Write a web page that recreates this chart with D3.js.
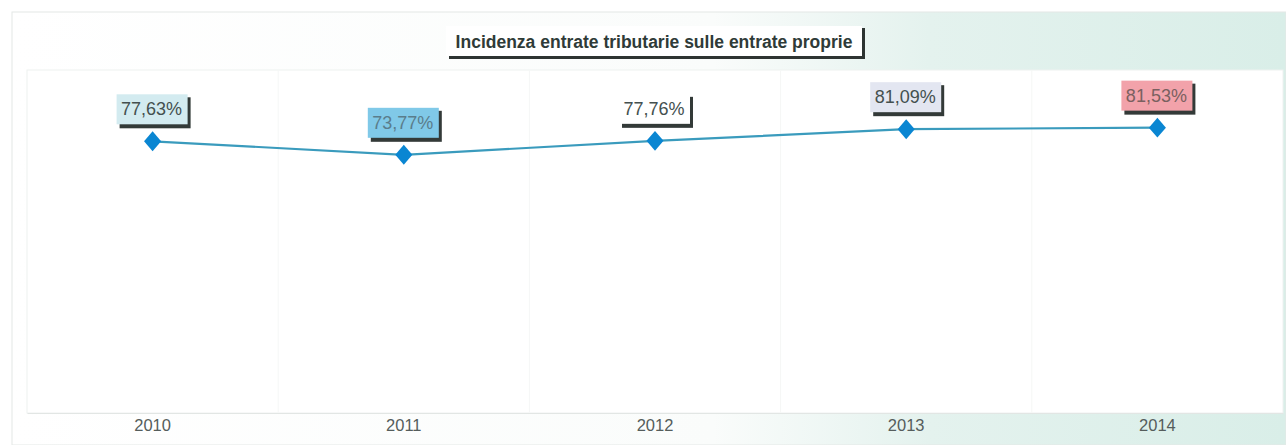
<!DOCTYPE html>
<html lang="it">
<head>
    <meta charset="UTF-8">
    <script src="https://d3js.org/d3.v7.min.js"></script>
    <title>Incidenza entrate tributarie</title>
    <style>
        body { margin: 0; background: #fff; }
        svg { display: block; font-family: "Liberation Sans", Arial, sans-serif; }
    </style>
</head>
<body>
    <svg width="1286" height="445"></svg>
    <script>
    // dati
    const anni = ["2010", "2011", "2012", "2013", "2014"];
    const incidenza = [77.63, 73.77, 77.76, 81.09, 81.53];
    const etichette = ["77,63%", "73,77%", "77,76%", "81,09%", "81,53%"];
    const titolo = "Incidenza entrate tributarie sulle entrate proprie";

    // colori delle etichette (stile)
    const fondoEtichette = ["#d3ebf0", "#80c9e8", "#ffffff", "#e3e6f1", "#f2a2aa"];
    const testoEtichette = ["#44504f", "#5a7d8c", "#44504f", "#44504f", "#7a6060"];

    const svg = d3.select("svg");
    const width = 1286, height = 445;
    const margin = {top: 70, right: 3, bottom: 32, left: 27};

    // sfondo sfumato
    const defs = svg.append("defs");
    const grad = defs.append("linearGradient").attr("id", "bg")
        .attr("x1", "0%").attr("x2", "100%").attr("y1", "0%").attr("y2", "0%");
    grad.append("stop").attr("offset", "0%").attr("stop-color", "#ffffff");
    grad.append("stop").attr("offset", "55%").attr("stop-color", "#fafcfb");
    grad.append("stop").attr("offset", "72%").attr("stop-color", "#e4f2ee");
    grad.append("stop").attr("offset", "100%").attr("stop-color", "#d9eee8");

    svg.append("rect")
        .attr("x", 12).attr("y", 12)
        .attr("width", width - 12).attr("height", height - 12)
        .attr("fill", "url(#bg)")
        .attr("stroke", "#e4e8e6");

    const x = d3.scaleBand()
        .domain(anni)
        .range([margin.left, width - margin.right]);

    const y = d3.scaleLinear()
        .domain([0, 98])
        .range([height - margin.bottom, margin.top]);

    // area del grafico
    svg.append("rect")
        .attr("x", margin.left).attr("y", margin.top)
        .attr("width", width - margin.left - margin.right)
        .attr("height", height - margin.top - margin.bottom)
        .attr("fill", "#ffffff")
        .attr("stroke", "#eef1f0");

    // griglia verticale leggera
    svg.append("g")
        .selectAll("line")
        .data(anni.slice(1))
        .join("line")
        .attr("x1", d => x(d)).attr("x2", d => x(d))
        .attr("y1", margin.top).attr("y2", height - margin.bottom)
        .attr("stroke", "#f5f7f6");

    // asse x
    const xAxis = svg.append("g")
        .attr("transform", `translate(0,${height - margin.bottom})`)
        .call(d3.axisBottom(x).tickSize(0).tickPadding(6));
    xAxis.select(".domain").attr("stroke", "#e2e6e4");
    xAxis.selectAll("text")
        .attr("font-size", 16.5)
        .attr("fill", "#555d5c")
        .attr("font-family", "'Liberation Sans', Arial, sans-serif");

    // linea
    const punti = anni.map((a, i) => ({anno: a, v: incidenza[i], lab: etichette[i], i: i}));
    const cx = d => x(d.anno) + x.bandwidth() / 2;

    svg.append("path")
        .datum(punti)
        .attr("fill", "none")
        .attr("stroke", "#3a9bbd")
        .attr("stroke-width", 2.2)
        .attr("d", d3.line().x(cx).y(d => y(d.v)));

    svg.append("g")
        .selectAll("path")
        .data(punti)
        .join("path")
        .attr("transform", d => `translate(${cx(d)},${y(d.v)}) scale(0.9,1.05) rotate(45)`)
        .attr("d", d3.symbol(d3.symbolSquare, 180)())
        .attr("fill", "#0a86d2");

    // etichette con ombra
    const lab = svg.append("g")
        .selectAll("g")
        .data(punti)
        .join("g")
        .attr("transform", d => `translate(${cx(d)},${y(d.v) - 30})`);

    lab.append("rect")
        .attr("x", -33).attr("y", -14)
        .attr("width", 71).attr("height", 31)
        .attr("fill", "#333a38");
    lab.append("rect")
        .attr("x", -36).attr("y", -17)
        .attr("width", 71).attr("height", 30)
        .attr("fill", (d, i) => fondoEtichette[i]);
    lab.append("text")
        .attr("x", -1).attr("y", 4)
        .attr("text-anchor", "middle")
        .attr("font-size", 18)
        .attr("fill", (d, i) => testoEtichette[i])
        .text(d => d.lab);

    // titolo
    const tx = (margin.left + width - margin.right) / 2;
    const tg = svg.append("g").attr("transform", `translate(${tx},42)`);
    tg.append("rect")
        .attr("x", -206).attr("y", -14)
        .attr("width", 416).attr("height", 31)
        .attr("fill", "#2e3432");
    tg.append("rect")
        .attr("x", -209).attr("y", -16)
        .attr("width", 416).attr("height", 30)
        .attr("fill", "#ffffff");
    tg.append("text")
        .attr("x", -1).attr("y", 6)
        .attr("text-anchor", "middle")
        .attr("font-size", 17.5)
        .attr("font-weight", "bold")
        .attr("fill", "#2f3b38")
        .text(titolo);
    </script>
</body>
</html>
